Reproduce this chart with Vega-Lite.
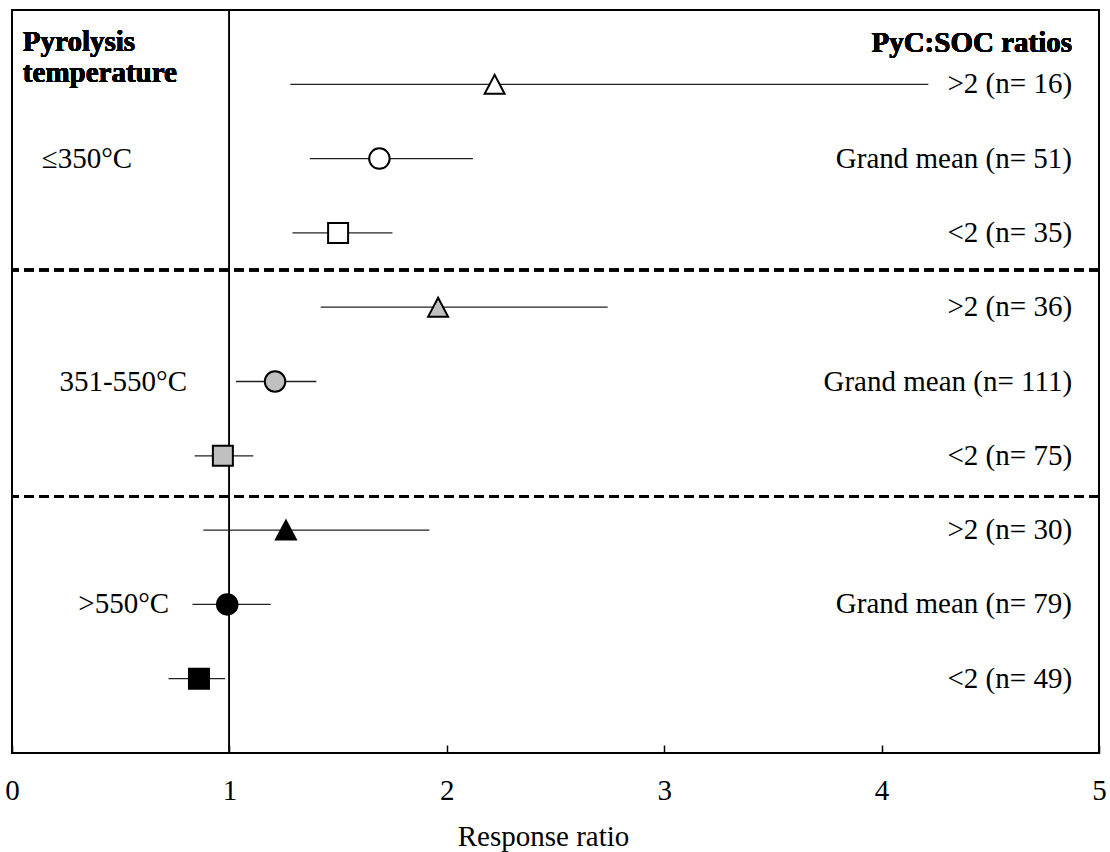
{
  "$schema": "https://vega.github.io/schema/vega-lite/v6.json",
  "width": 1087,
  "height": 743,
  "autosize": "none",
  "padding": {"left": 12, "top": 10, "right": 11, "bottom": 99},
  "background": "white",
  "config": {
    "font": "Liberation Serif",
    "view": {"stroke": "black", "strokeWidth": 2},
    "text": {"font": "Liberation Serif", "fontSize": 29, "color": "black"}
  },
  "data": {
    "values": [
      {"row": 1, "temp": "≤350°C", "ratio": ">2", "mean": 2.22, "lo": 1.28, "hi": 4.215, "label": ">2 (n= 16)"},
      {"row": 2, "temp": "≤350°C", "ratio": "Grand mean", "mean": 1.69, "lo": 1.37, "hi": 2.12, "label": "Grand mean (n= 51)"},
      {"row": 3, "temp": "≤350°C", "ratio": "<2", "mean": 1.50, "lo": 1.29, "hi": 1.75, "label": "<2 (n= 35)"},
      {"row": 4, "temp": "351-550°C", "ratio": ">2", "mean": 1.96, "lo": 1.42, "hi": 2.74, "label": ">2 (n= 36)"},
      {"row": 5, "temp": "351-550°C", "ratio": "Grand mean", "mean": 1.21, "lo": 1.03, "hi": 1.40, "label": "Grand mean (n= 111)"},
      {"row": 6, "temp": "351-550°C", "ratio": "<2", "mean": 0.97, "lo": 0.84, "hi": 1.11, "label": "<2 (n= 75)"},
      {"row": 7, "temp": ">550°C", "ratio": ">2", "mean": 1.26, "lo": 0.88, "hi": 1.92, "label": ">2 (n= 30)"},
      {"row": 8, "temp": ">550°C", "ratio": "Grand mean", "mean": 0.99, "lo": 0.83, "hi": 1.19, "label": "Grand mean (n= 79)"},
      {"row": 9, "temp": ">550°C", "ratio": "<2", "mean": 0.86, "lo": 0.72, "hi": 0.98, "label": "<2 (n= 49)"}
    ]
  },
  "layer": [
    {
      "mark": {"type": "rule", "color": "black", "strokeWidth": 1.2},
      "encoding": {
        "x": {
          "datum": 1,
          "type": "quantitative",
          "scale": {"domain": [0, 5], "nice": false, "zero": false},
          "axis": {
            "values": [0, 1, 2, 3, 4, 5],
            "format": "d",
            "grid": false,
            "domain": false,
            "offset": -8,
            "tickSize": 8,
            "tickColor": "black",
            "tickWidth": 1.5,
            "labelFont": "Liberation Serif",
            "labelFontSize": 29,
            "labelColor": "black",
            "labelPadding": 23,
            "labelFlush": false,
            "title": "Response ratio",
            "titleFont": "Liberation Serif",
            "titleFontSize": 29,
            "titleFontWeight": "normal",
            "titleColor": "black",
            "titleX": 531,
            "titleY": 100,
            "titleBaseline": "alphabetic"
          }
        }
      }
    },
    {
      "mark": {"type": "rule", "color": "black", "strokeWidth": 2.5, "strokeDash": [10, 5]},
      "encoding": {
        "y": {"datum": 3.5, "type": "quantitative", "scale": {"domain": [0, 10], "reverse": true, "nice": false, "zero": false}, "axis": null}
      }
    },
    {
      "mark": {"type": "rule", "color": "black", "strokeWidth": 2.5, "strokeDash": [10, 5]},
      "encoding": {
        "y": {"datum": 6.55, "type": "quantitative"}
      }
    },
    {
      "mark": {"type": "rule", "color": "#222222", "strokeWidth": 1.3},
      "encoding": {
        "x": {"field": "lo", "type": "quantitative"},
        "x2": {"field": "hi"},
        "y": {"field": "row", "type": "quantitative"}
      }
    },
    {
      "mark": {"type": "point", "filled": true, "opacity": 1, "stroke": "black", "strokeWidth": 2},
      "encoding": {
        "x": {"field": "mean", "type": "quantitative"},
        "y": {"field": "row", "type": "quantitative"},
        "shape": {
          "field": "ratio",
          "type": "nominal",
          "scale": {"domain": [">2", "Grand mean", "<2"], "range": ["M0,-0.9L-0.95,0.9L0.95,0.9Z", "circle", "square"]},
          "legend": null
        },
        "size": {
          "field": "ratio",
          "type": "nominal",
          "scale": {"domain": [">2", "Grand mean", "<2"], "range": [441, 400, 361]},
          "legend": null
        },
        "fill": {
          "field": "temp",
          "type": "nominal",
          "scale": {"domain": ["≤350°C", "351-550°C", ">550°C"], "range": ["white", "#c0c0c0", "black"]},
          "legend": null
        }
      }
    },
    {
      "mark": {"type": "text", "align": "right", "baseline": "middle"},
      "encoding": {
        "x": {"datum": 4.876, "type": "quantitative"},
        "y": {"field": "row", "type": "quantitative"},
        "text": {"field": "label"}
      }
    },
    {
      "transform": [{"filter": "datum.row == 2"}],
      "mark": {"type": "text", "align": "left", "baseline": "middle"},
      "encoding": {
        "x": {"datum": 0.137, "type": "quantitative"},
        "y": {"field": "row", "type": "quantitative"},
        "text": {"field": "temp"}
      }
    },
    {
      "transform": [{"filter": "datum.row == 5"}],
      "mark": {"type": "text", "align": "left", "baseline": "middle"},
      "encoding": {
        "x": {"datum": 0.218, "type": "quantitative"},
        "y": {"field": "row", "type": "quantitative"},
        "text": {"field": "temp"}
      }
    },
    {
      "transform": [{"filter": "datum.row == 8"}],
      "mark": {"type": "text", "align": "left", "baseline": "middle"},
      "encoding": {
        "x": {"datum": 0.305, "type": "quantitative"},
        "y": {"field": "row", "type": "quantitative"},
        "text": {"field": "temp"}
      }
    },
    {
      "mark": {"type": "text", "align": "left", "baseline": "middle", "fontWeight": "bold", "text": "Pyrolysis"},
      "encoding": {
        "x": {"datum": 0.05, "type": "quantitative"},
        "y": {"datum": 0.43, "type": "quantitative"}
      }
    },
    {
      "mark": {"type": "text", "align": "left", "baseline": "middle", "fontWeight": "bold", "text": "temperature"},
      "encoding": {
        "x": {"datum": 0.05, "type": "quantitative"},
        "y": {"datum": 0.85, "type": "quantitative"}
      }
    },
    {
      "mark": {"type": "text", "align": "right", "baseline": "middle", "fontWeight": "bold", "text": "PyC:SOC ratios"},
      "encoding": {
        "x": {"datum": 4.876, "type": "quantitative"},
        "y": {"datum": 0.44, "type": "quantitative"}
      }
    }
  ]
}
